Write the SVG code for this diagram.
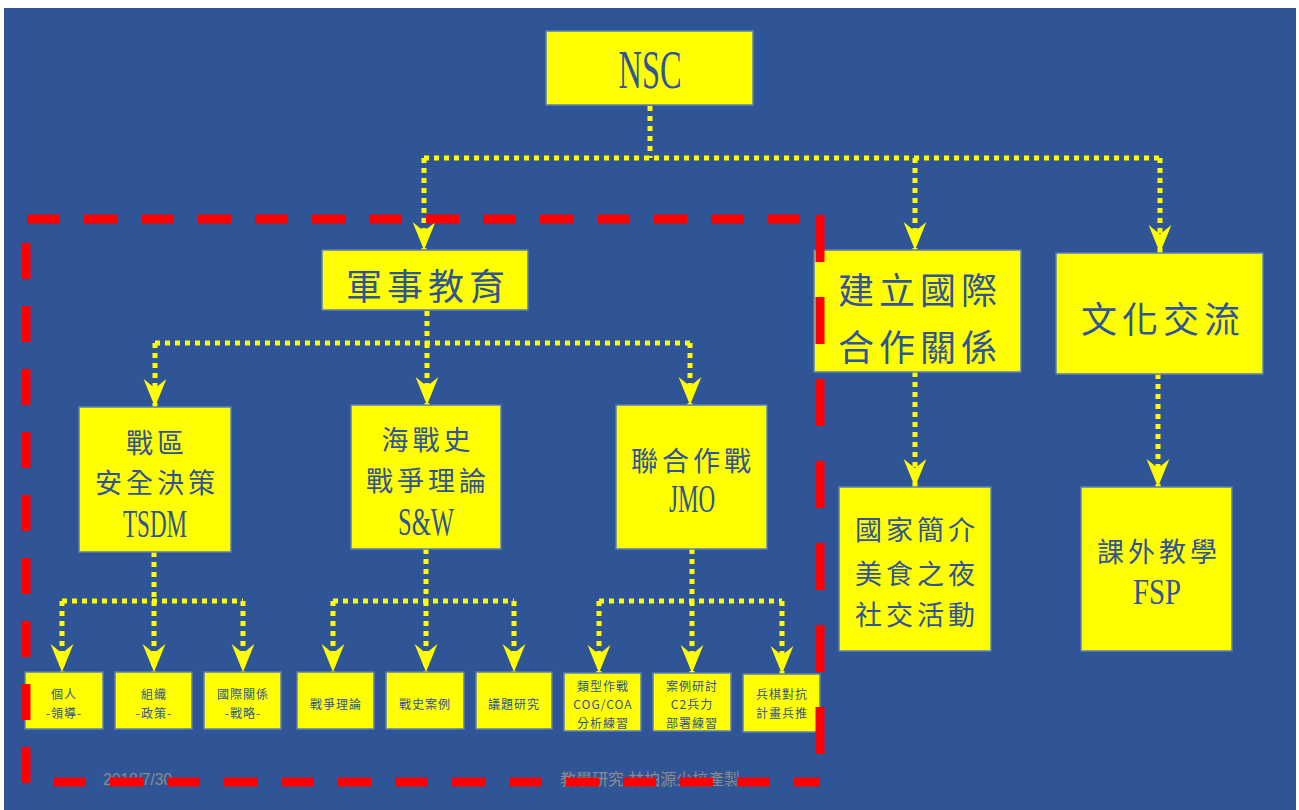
<svg xmlns="http://www.w3.org/2000/svg" width="1299" height="810" viewBox="0 0 1299 810">
<defs>
<style>
.box{fill:#FFFF00;stroke:#5B7FB5;stroke-width:1.5}
.t{font-family:"Noto Sans CJK TC","Noto Sans CJK SC",sans-serif;fill:#2F5597;text-anchor:middle;dominant-baseline:central}
.lat{font-family:"Liberation Serif",serif;fill:#2F5597;text-anchor:middle;dominant-baseline:central}
.big{font-size:36px;letter-spacing:5px}
.mid{font-size:27px;letter-spacing:4px}
.sm{font-size:12px;letter-spacing:1px}
.con{fill:none;stroke:#FFFF00;stroke-width:5;stroke-dasharray:5 5}
.foot{font-family:"Liberation Sans","Noto Sans CJK TC",sans-serif;fill:#8C8C8C;font-size:16px}
.red{fill:none;stroke:#FF0000;stroke-width:9}
</style>
<marker id="ah" markerUnits="userSpaceOnUse" markerWidth="28" markerHeight="24" viewBox="0 0 27 22" refX="27" refY="11" orient="auto">
<path d="M0,0 L27,11 L0,22 L9,11 Z" fill="#FFFF00"/>
</marker>
</defs>
<rect x="0" y="0" width="1299" height="810" fill="#FFFFFF"/>
<rect x="4" y="8" width="1292" height="802" fill="#2F5597"/>

<g id="connectors">
<path class="con" d="M650,106 V158"/>
<path class="con" d="M424,158 H1160"/>
<path class="con" d="M424,158 V250" marker-end="url(#ah)"/>
<path class="con" d="M915,158 V250" marker-end="url(#ah)"/>
<path class="con" d="M1160,158 V253" marker-end="url(#ah)"/>
<path class="con" d="M427,311 V343"/>
<path class="con" d="M155,343 H690"/>
<path class="con" d="M155,343 V407" marker-end="url(#ah)"/>
<path class="con" d="M427,343 V405" marker-end="url(#ah)"/>
<path class="con" d="M690,343 V405" marker-end="url(#ah)"/>
<path class="con" d="M154,552 V601"/>
<path class="con" d="M62,601 H243"/>
<path class="con" d="M62,601 V672" marker-end="url(#ah)"/>
<path class="con" d="M154,601 V672" marker-end="url(#ah)"/>
<path class="con" d="M243,601 V672" marker-end="url(#ah)"/>
<path class="con" d="M426,549 V601"/>
<path class="con" d="M333,601 H514"/>
<path class="con" d="M333,601 V672" marker-end="url(#ah)"/>
<path class="con" d="M426,601 V672" marker-end="url(#ah)"/>
<path class="con" d="M514,601 V672" marker-end="url(#ah)"/>
<path class="con" d="M692,549 V601"/>
<path class="con" d="M599,601 H782"/>
<path class="con" d="M599,601 V673" marker-end="url(#ah)"/>
<path class="con" d="M692,601 V673" marker-end="url(#ah)"/>
<path class="con" d="M782,601 V674" marker-end="url(#ah)"/>
<path class="con" d="M915,372 V487" marker-end="url(#ah)"/>
<path class="con" d="M1158,374 V487" marker-end="url(#ah)"/>
</g>

<g id="nsc">
<rect class="box" x="546" y="31" width="207" height="74"/>
<text class="lat" x="650" y="70" font-size="54" textLength="63" lengthAdjust="spacingAndGlyphs">NSC</text>
</g>
<g id="military">
<rect class="box" x="322" y="250" width="206" height="60"/>
<text class="t big" x="428" y="284">軍事教育</text>
</g>
<g id="intl">
<rect class="box" x="814" y="250" width="207" height="122"/>
<text class="t big" x="920" y="288">建立國際</text>
<text class="t big" x="920" y="345">合作關係</text>
</g>
<g id="culture">
<rect class="box" x="1056" y="253" width="207" height="121"/>
<text class="t big" x="1163" y="317">文化交流</text>
</g>
<g id="tsdm">
<rect class="box" x="79" y="407" width="152" height="145"/>
<text class="t mid" x="157" y="441">戰區</text>
<text class="t mid" x="157" y="481">安全決策</text>
<text class="lat" x="155" y="523" font-size="40" textLength="64" lengthAdjust="spacingAndGlyphs">TSDM</text>
</g>
<g id="sw">
<rect class="box" x="351" y="405" width="150" height="144"/>
<text class="t mid" x="428" y="438">海戰史</text>
<text class="t mid" x="428" y="479">戰爭理論</text>
<text class="lat" x="426" y="521" font-size="40" textLength="56" lengthAdjust="spacingAndGlyphs">S&amp;W</text>
</g>
<g id="jmo">
<rect class="box" x="616" y="405" width="151" height="144"/>
<text class="t mid" x="693" y="459">聯合作戰</text>
<text class="lat" x="692" y="498" font-size="40" textLength="46" lengthAdjust="spacingAndGlyphs">JMO</text>
</g>
<g id="country">
<rect class="box" x="839" y="487" width="152" height="164"/>
<text class="t mid" x="917" y="528">國家簡介</text>
<text class="t mid" x="917" y="572">美食之夜</text>
<text class="t mid" x="917" y="613">社交活動</text>
</g>
<g id="fsp">
<rect class="box" x="1081" y="487" width="151" height="164"/>
<text class="t mid" x="1159" y="550">課外教學</text>
<text class="lat" x="1157" y="592" font-size="36" textLength="48" lengthAdjust="spacingAndGlyphs">FSP</text>
</g>
<g id="leader">
<rect class="box" x="25" y="672" width="78" height="57"/>
<text class="t sm" x="64" y="693">個人</text>
<text class="t sm" x="64" y="712">-領導-</text>
</g>
<g id="org">
<rect class="box" x="115" y="672" width="77" height="57"/>
<text class="t sm" x="154" y="693">組織</text>
<text class="t sm" x="154" y="712">-政策-</text>
</g>
<g id="ir">
<rect class="box" x="204" y="672" width="77" height="57"/>
<text class="t sm" x="243" y="693">國際關係</text>
<text class="t sm" x="243" y="712">-戰略-</text>
</g>
<g id="wartheory">
<rect class="box" x="297" y="672" width="77" height="57"/>
<text class="t sm" x="336" y="703">戰爭理論</text>
</g>
<g id="warcase">
<rect class="box" x="386" y="672" width="78" height="57"/>
<text class="t sm" x="425" y="703">戰史案例</text>
</g>
<g id="issue">
<rect class="box" x="476" y="672" width="76" height="57"/>
<text class="t sm" x="514" y="703">議題研究</text>
</g>
<g id="cog">
<rect class="box" x="564" y="673" width="77" height="58"/>
<text class="t sm" x="603" y="685">類型作戰</text>
<text class="t sm" x="603" y="703">COG/COA</text>
<text class="t sm" x="603" y="722">分析練習</text>
</g>
<g id="c2">
<rect class="box" x="653" y="673" width="78" height="58"/>
<text class="t sm" x="692" y="685">案例研討</text>
<text class="t sm" x="692" y="703">C2兵力</text>
<text class="t sm" x="692" y="722">部署練習</text>
</g>
<g id="wargame">
<rect class="box" x="743" y="674" width="77" height="58"/>
<text class="t sm" x="782" y="693">兵棋對抗</text>
<text class="t sm" x="782" y="712">計畫兵推</text>
</g>

<text class="foot" x="103" y="785" textLength="69" lengthAdjust="spacingAndGlyphs">2018/7/30</text>
<text class="foot" x="560" y="785" textLength="180" lengthAdjust="spacingAndGlyphs">教學研究 林柏源少校產製</text>

<g id="red-frame">
<path class="red" d="M27,219 H800" stroke-dasharray="33 24"/>
<path class="red" d="M26,243 V786" stroke-dasharray="36 27"/>
<path class="red" d="M820,215 V786" stroke-dasharray="47 35"/>
<path class="red" d="M53,782 H820" stroke-dasharray="33 24"/>
</g>
</svg>
